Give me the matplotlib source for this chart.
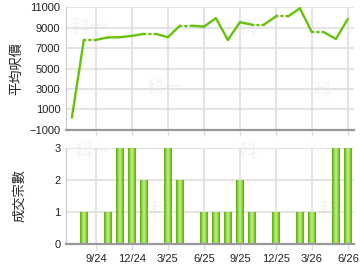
import numpy as np
import matplotlib
matplotlib.use("Agg")
import matplotlib.pyplot as plt

plt.rcParams['font.family'] = ['Liberation Sans', 'Noto Sans CJK TC', 'DejaVu Sans']

# monthly data, Jul 2024 .. Jun 2026
months = ['7/24', '8/24', '9/24', '10/24', '11/24', '12/24', '1/25', '2/25',
          '3/25', '4/25', '5/25', '6/25', '7/25', '8/25', '9/25', '10/25',
          '11/25', '12/25', '1/26', '2/26', '3/26', '4/26', '5/26', '6/26']
avg_price = [200, 7810, 7810, 8050, 8070, 8200, 8400, 8400,
             8070, 9200, 9200, 9100, 9930, 7800, 9540, 9300,
             9300, 10100, 10100, 10900, 8560, 8560, 7900, 9860]
# months carried forward (no transactions) -> drawn dotted
estimated = [False, False, True, False, False, False, False, True,
             False, False, True, False, False, False, False, False,
             True, False, True, False, False, True, False, False]
counts = [0, 1, 0, 1, 3, 3, 2, 0, 3, 2, 0, 1, 1, 1, 2, 1,
          0, 1, 0, 1, 1, 0, 3, 3]
tick_labels = ['9/24', '12/24', '3/25', '6/25', '9/25', '12/25', '3/26', '6/26']

x = np.arange(len(months))
tick_pos = [months.index(t) for t in tick_labels]

line_c = '#66c20a'
grid_c = '#dcdcdc'

fig = plt.figure(figsize=(3.6, 2.7), dpi=100)
ax1 = fig.add_axes([0.183, 0.519, 0.800, 0.454])
ax2 = fig.add_axes([0.183, 0.0975, 0.800, 0.356])

for ax in (ax1, ax2):
    ax.set_xlim(-0.5, len(months) - 0.5)
    ax.set_xticks(tick_pos)
    ax.grid(True, color=grid_c, linewidth=1.1)
    ax.set_axisbelow(True)
    for s in ('top', 'right'):
        ax.spines[s].set_visible(False)
    ax.spines['left'].set_color('#c8c8c8')
    ax.spines['bottom'].set_color('#999999')
    ax.spines['bottom'].set_linewidth(1.6)
    ax.tick_params(axis='y', length=0, labelsize=8, colors='#222222', pad=4)
    ax.tick_params(axis='x', length=4, color=grid_c, labelsize=8,
                   colors='#222222')

# faint watermark
for ax, pts in ((ax1, [(0.02, 0.8), (0.28, 0.3), (0.6, 0.78), (0.86, 0.28)]),
                (ax2, [(0.03, 0.9), (0.29, 0.3), (0.6, 0.9), (0.88, 0.3)])):
    for px, py in pts:
        ax.text(px, py, '科一', transform=ax.transAxes, fontsize=13,
                color='#f6f6f6', family=['Noto Sans CJK TC'],
                fontweight='bold', zorder=0)

# average price line, dotted into carried-forward months
for i in range(len(x) - 1):
    ls = (0, (0.6, 1.6)) if estimated[i + 1] else '-'
    ax1.plot(x[i:i + 2], avg_price[i:i + 2], color=line_c, linewidth=1.7,
             linestyle=ls, solid_capstyle='round', dash_capstyle='round')
ax1.set_ylim(-1000, 11000)
ax1.set_yticks(np.arange(-1000, 11001, 2000))
ax1.tick_params(axis='x', labelbottom=False)
ax1.set_ylabel('平均呎價', fontsize=9.5, family=['Noto Sans CJK TC'],
               color='#222222', labelpad=4)

# bars with a simple shaded look
shades = [(0.72, '#62b514'), (0.56, '#7dcc2a'), (0.36, '#9ad957'),
          (0.14, '#b3e57c')]
for w, c in shades:
    ax2.bar(x, counts, width=w, color=c, linewidth=0, zorder=2)
ax2.set_ylim(0, 3)
ax2.set_yticks([0, 1, 2, 3])
ax2.set_xticklabels(tick_labels)
ax2.set_ylabel('成交宗數', fontsize=9.5, family=['Noto Sans CJK TC'],
               color='#222222', labelpad=20)

fig.savefig('out.png', dpi=100)
